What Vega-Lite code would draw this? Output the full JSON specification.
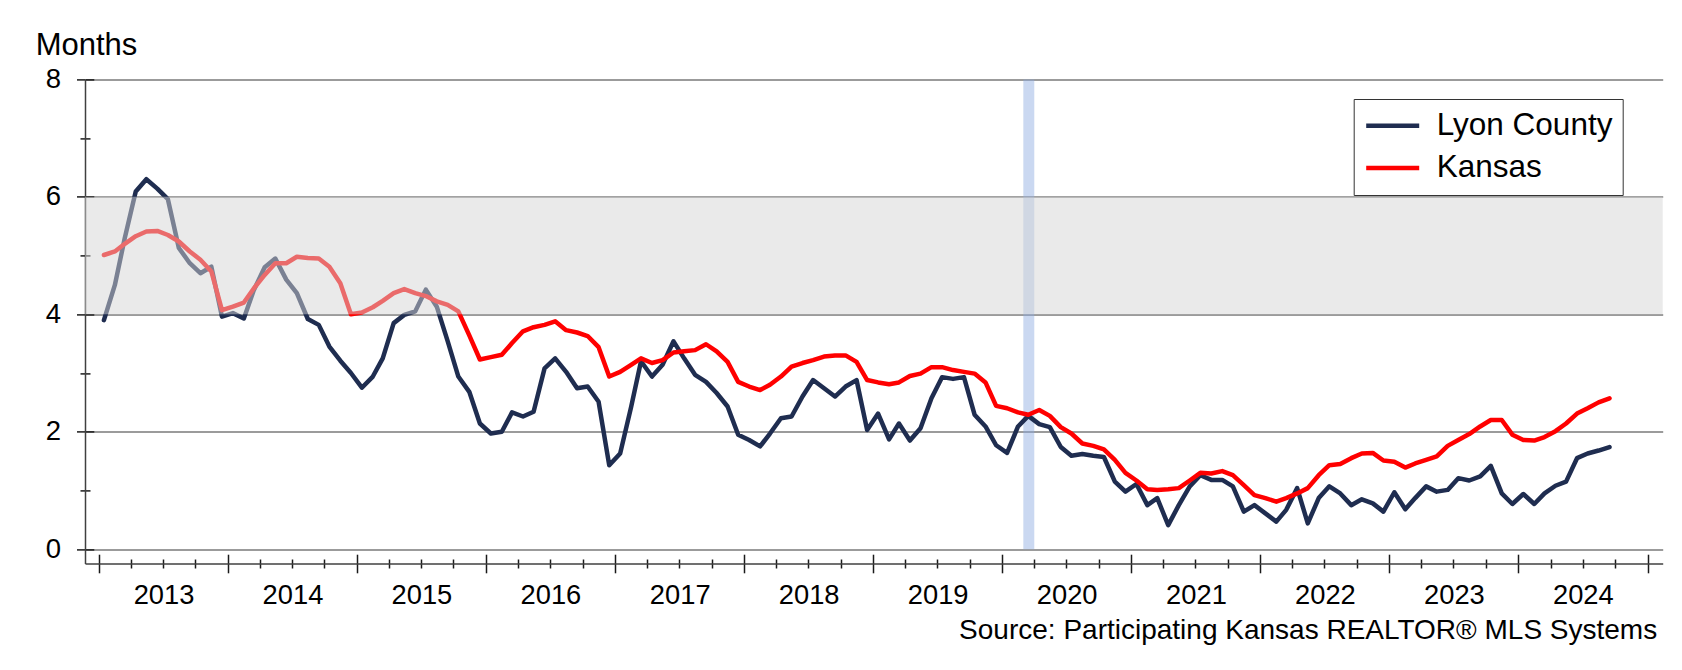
{
  "$schema": "https://vega.github.io/schema/vega-lite/v6.json",
  "autosize": {"type": "none"},
  "padding": {"left": 85, "top": 79.4, "right": 19.3, "bottom": 106.5},
  "width": 1577.7,
  "height": 484.1,
  "background": "white",
  "config": {"view": {"stroke": null}, "font": "Liberation Sans"},
  "datasets": {
    "m": [
      {"d":"2013-01-15","lyon":3.90,"ks":5.01},{"d":"2013-02-15","lyon":4.50,"ks":5.07},{"d":"2013-03-15","lyon":5.30,"ks":5.20},{"d":"2013-04-15","lyon":6.09,"ks":5.33},{"d":"2013-05-15","lyon":6.30,"ks":5.41},{"d":"2013-06-15","lyon":6.14,"ks":5.42},{"d":"2013-07-15","lyon":5.96,"ks":5.35},{"d":"2013-08-15","lyon":5.13,"ks":5.24},{"d":"2013-09-15","lyon":4.87,"ks":5.07},{"d":"2013-10-15","lyon":4.70,"ks":4.93},{"d":"2013-11-15","lyon":4.81,"ks":4.73},{"d":"2013-12-15","lyon":3.96,"ks":4.07},
      {"d":"2014-01-15","lyon":4.02,"ks":4.13},{"d":"2014-02-15","lyon":3.93,"ks":4.20},{"d":"2014-03-15","lyon":4.41,"ks":4.44},{"d":"2014-04-15","lyon":4.80,"ks":4.67},{"d":"2014-05-15","lyon":4.95,"ks":4.87},{"d":"2014-06-15","lyon":4.59,"ks":4.87},{"d":"2014-07-15","lyon":4.36,"ks":4.98},{"d":"2014-08-15","lyon":3.92,"ks":4.96},{"d":"2014-09-15","lyon":3.82,"ks":4.95},{"d":"2014-10-15","lyon":3.45,"ks":4.81},{"d":"2014-11-15","lyon":3.21,"ks":4.53},{"d":"2014-12-15","lyon":3.00,"ks":4.00},
      {"d":"2015-01-15","lyon":2.75,"ks":4.03},{"d":"2015-02-15","lyon":2.94,"ks":4.12},{"d":"2015-03-15","lyon":3.25,"ks":4.23},{"d":"2015-04-15","lyon":3.85,"ks":4.36},{"d":"2015-05-15","lyon":3.99,"ks":4.43},{"d":"2015-06-15","lyon":4.05,"ks":4.36},{"d":"2015-07-15","lyon":4.42,"ks":4.31},{"d":"2015-08-15","lyon":4.13,"ks":4.22},{"d":"2015-09-15","lyon":3.54,"ks":4.16},{"d":"2015-10-15","lyon":2.94,"ks":4.05},{"d":"2015-11-15","lyon":2.68,"ks":3.64},{"d":"2015-12-15","lyon":2.14,"ks":3.23},
      {"d":"2016-01-15","lyon":1.97,"ks":3.27},{"d":"2016-02-15","lyon":2.00,"ks":3.31},{"d":"2016-03-15","lyon":2.33,"ks":3.51},{"d":"2016-04-15","lyon":2.26,"ks":3.71},{"d":"2016-05-15","lyon":2.34,"ks":3.78},{"d":"2016-06-15","lyon":3.08,"ks":3.82},{"d":"2016-07-15","lyon":3.25,"ks":3.88},{"d":"2016-08-15","lyon":3.02,"ks":3.73},{"d":"2016-09-15","lyon":2.74,"ks":3.69},{"d":"2016-10-15","lyon":2.77,"ks":3.63},{"d":"2016-11-15","lyon":2.51,"ks":3.44},{"d":"2016-12-15","lyon":1.43,"ks":2.94},
      {"d":"2017-01-15","lyon":1.63,"ks":3.02},{"d":"2017-02-15","lyon":2.42,"ks":3.14},{"d":"2017-03-15","lyon":3.20,"ks":3.25},{"d":"2017-04-15","lyon":2.94,"ks":3.17},{"d":"2017-05-15","lyon":3.14,"ks":3.22},{"d":"2017-06-15","lyon":3.54,"ks":3.35},{"d":"2017-07-15","lyon":3.25,"ks":3.37},{"d":"2017-08-15","lyon":2.97,"ks":3.39},{"d":"2017-09-15","lyon":2.85,"ks":3.49},{"d":"2017-10-15","lyon":2.66,"ks":3.37},{"d":"2017-11-15","lyon":2.43,"ks":3.19},{"d":"2017-12-15","lyon":1.95,"ks":2.85},
      {"d":"2018-01-15","lyon":1.86,"ks":2.77},{"d":"2018-02-15","lyon":1.75,"ks":2.71},{"d":"2018-03-15","lyon":1.97,"ks":2.80},{"d":"2018-04-15","lyon":2.23,"ks":2.94},{"d":"2018-05-15","lyon":2.26,"ks":3.11},{"d":"2018-06-15","lyon":2.60,"ks":3.17},{"d":"2018-07-15","lyon":2.88,"ks":3.22},{"d":"2018-08-15","lyon":2.74,"ks":3.28},{"d":"2018-09-15","lyon":2.60,"ks":3.30},{"d":"2018-10-15","lyon":2.77,"ks":3.30},{"d":"2018-11-15","lyon":2.88,"ks":3.19},{"d":"2018-12-15","lyon":2.03,"ks":2.88},
      {"d":"2019-01-15","lyon":2.31,"ks":2.84},{"d":"2019-02-15","lyon":1.87,"ks":2.81},{"d":"2019-03-15","lyon":2.14,"ks":2.84},{"d":"2019-04-15","lyon":1.85,"ks":2.95},{"d":"2019-05-15","lyon":2.06,"ks":2.99},{"d":"2019-06-15","lyon":2.57,"ks":3.10},{"d":"2019-07-15","lyon":2.93,"ks":3.10},{"d":"2019-08-15","lyon":2.90,"ks":3.05},{"d":"2019-09-15","lyon":2.93,"ks":3.02},{"d":"2019-10-15","lyon":2.29,"ks":2.99},{"d":"2019-11-15","lyon":2.09,"ks":2.84},{"d":"2019-12-15","lyon":1.77,"ks":2.44},
      {"d":"2020-01-15","lyon":1.64,"ks":2.40},{"d":"2020-02-15","lyon":2.09,"ks":2.33},{"d":"2020-03-15","lyon":2.27,"ks":2.29},{"d":"2020-04-15","lyon":2.13,"ks":2.37},{"d":"2020-05-15","lyon":2.08,"ks":2.27},{"d":"2020-06-15","lyon":1.74,"ks":2.08},{"d":"2020-07-15","lyon":1.59,"ks":1.97},{"d":"2020-08-15","lyon":1.62,"ks":1.80},{"d":"2020-09-15","lyon":1.59,"ks":1.76},{"d":"2020-10-15","lyon":1.57,"ks":1.70},{"d":"2020-11-15","lyon":1.15,"ks":1.52},{"d":"2020-12-15","lyon":0.98,"ks":1.30},
      {"d":"2021-01-15","lyon":1.11,"ks":1.17},{"d":"2021-02-15","lyon":0.75,"ks":1.02},{"d":"2021-03-15","lyon":0.87,"ks":1.01},{"d":"2021-04-15","lyon":0.41,"ks":1.02},{"d":"2021-05-15","lyon":0.75,"ks":1.04},{"d":"2021-06-15","lyon":1.07,"ks":1.17},{"d":"2021-07-15","lyon":1.26,"ks":1.30},{"d":"2021-08-15","lyon":1.18,"ks":1.29},{"d":"2021-09-15","lyon":1.18,"ks":1.33},{"d":"2021-10-15","lyon":1.07,"ks":1.26},{"d":"2021-11-15","lyon":0.64,"ks":1.09},{"d":"2021-12-15","lyon":0.75,"ks":0.92},
      {"d":"2022-01-15","lyon":0.61,"ks":0.87},{"d":"2022-02-15","lyon":0.47,"ks":0.81},{"d":"2022-03-15","lyon":0.67,"ks":0.87},{"d":"2022-04-15","lyon":1.04,"ks":0.95},{"d":"2022-05-15","lyon":0.44,"ks":1.04},{"d":"2022-06-15","lyon":0.87,"ks":1.26},{"d":"2022-07-15","lyon":1.07,"ks":1.43},{"d":"2022-08-15","lyon":0.95,"ks":1.45},{"d":"2022-09-15","lyon":0.75,"ks":1.55},{"d":"2022-10-15","lyon":0.85,"ks":1.63},{"d":"2022-11-15","lyon":0.78,"ks":1.64},{"d":"2022-12-15","lyon":0.64,"ks":1.51},
      {"d":"2023-01-15","lyon":0.97,"ks":1.49},{"d":"2023-02-15","lyon":0.68,"ks":1.39},{"d":"2023-03-15","lyon":0.87,"ks":1.46},{"d":"2023-04-15","lyon":1.07,"ks":1.52},{"d":"2023-05-15","lyon":0.98,"ks":1.58},{"d":"2023-06-15","lyon":1.01,"ks":1.76},{"d":"2023-07-15","lyon":1.21,"ks":1.86},{"d":"2023-08-15","lyon":1.17,"ks":1.96},{"d":"2023-09-15","lyon":1.24,"ks":2.09},{"d":"2023-10-15","lyon":1.42,"ks":2.20},{"d":"2023-11-15","lyon":0.95,"ks":2.20},{"d":"2023-12-15","lyon":0.77,"ks":1.95},
      {"d":"2024-01-15","lyon":0.94,"ks":1.86},{"d":"2024-02-15","lyon":0.77,"ks":1.85},{"d":"2024-03-15","lyon":0.95,"ks":1.91},{"d":"2024-04-15","lyon":1.08,"ks":2.01},{"d":"2024-05-15","lyon":1.15,"ks":2.14},{"d":"2024-06-15","lyon":1.55,"ks":2.31},{"d":"2024-07-15","lyon":1.63,"ks":2.40},{"d":"2024-08-15","lyon":1.68,"ks":2.50},{"d":"2024-09-15","lyon":1.74,"ks":2.57}
    ],
    "covid": [{"s": "2020-03-01", "e": "2020-04-01", "y0": 0, "y1": 8}],
    "band": [{"lo": 4, "hi": 6}]
  },
  "resolve": {"axis": {"x": "independent", "y": "independent"}},
  "layer": [
    {
      "data": {"name": "covid"},
      "mark": {"type": "rect", "color": "#8aa8e0", "opacity": 0.45},
      "encoding": {
        "x": {
          "field": "s", "type": "temporal",
          "scale": {"type": "utc", "nice": false, "domain": [{"year": 2012, "month": 11, "date": 22, "hours": 10, "utc": true}, {"year": 2025, "month": 2, "date": 12, "hours": 12, "utc": true}]},
          "axis": {
            "orient": "bottom", "grid": false, "domain": false, "labels": false, "title": null,
            "tickCount": {"interval": "month", "step": 3},
            "tickColor": "#1a1a1a", "tickWidth": 1.5,
            "tickSize": {"condition": {"test": "utcmonth(datum.value) == 0", "value": -9.3}, "value": -4.5}
          }
        },
        "x2": {"field": "e"},
        "y": {
          "field": "y0", "type": "quantitative",
          "scale": {"domain": [-0.2435, 8], "nice": false, "zero": false},
          "axis": {
            "orient": "left", "values": [0, 1, 2, 3, 4, 5, 6, 7, 8], "grid": false, "domain": false, "labels": false, "title": null,
            "tickColor": "#1a1a1a", "tickWidth": 1.5,
            "tickSize": {"condition": {"test": "datum.value % 2 == 0", "value": -8.8}, "value": -5}
          }
        },
        "y2": {"field": "y1"}
      }
    },
    {
      "data": {"name": "m"},
      "mark": {"type": "line", "strokeWidth": 4.5, "strokeJoin": "round", "strokeCap": "round"},
      "encoding": {
        "x": {
          "field": "d", "type": "temporal",
          "axis": {
            "orient": "bottom", "grid": false, "domain": true, "domainColor": "#404040", "domainWidth": 1.5,
            "tickCount": {"interval": "month", "step": 3},
            "tickColor": "#1a1a1a", "tickWidth": 1.5,
            "tickSize": {"condition": {"test": "utcmonth(datum.value) == 0", "value": 9.3}, "value": 4.5},
            "labelExpr": "utcmonth(datum.value) == 0 && utcyear(datum.value) < 2025 ? utcFormat(datum.value, '%Y') : ''",
            "labelOffset": 64.5, "labelPadding": 30.5, "labelBaseline": "alphabetic", "labelAlign": "center",
            "labelFontSize": 27.3, "labelFont": "Liberation Sans", "labelColor": "#000000",
            "labelFlush": false, "labelOverlap": false, "labelBound": false,
            "title": "Source: Participating Kansas REALTOR® MLS Systems",
            "titleX": 1571.7, "titleY": 74.8, "titleAlign": "right", "titleBaseline": "alphabetic",
            "titleFontSize": 28, "titleFontWeight": "normal", "titleFont": "Liberation Sans", "titleColor": "#000000"
          }
        },
        "y": {
          "field": "lyon", "type": "quantitative",
          "axis": {
            "orient": "left", "values": [0, 1, 2, 3, 4, 5, 6, 7, 8],
            "grid": true, "gridColor": "#7a7a7a", "gridWidth": 1.5,
            "gridOpacity": {"condition": {"test": "datum.value % 2 == 0", "value": 1}, "value": 0},
            "domain": true, "domainColor": "#404040", "domainWidth": 1.5,
            "tickColor": "#1a1a1a", "tickWidth": 1.5,
            "tickSize": {"condition": {"test": "datum.value % 2 == 0", "value": 8.5}, "value": 5},
            "labelExpr": "datum.value % 2 == 0 ? datum.label : ''",
            "labelPadding": 16, "labelFontSize": 27.5, "labelFont": "Liberation Sans", "labelColor": "#000000",
            "labelBaseline": "middle", "labelFlush": false, "labelOverlap": false,
            "title": "Months", "titleAngle": 0, "titleAlign": "left", "titleBaseline": "alphabetic",
            "titleX": -49.8, "titleY": -25.4, "titleFontSize": 31, "titleFontWeight": "normal",
            "titleFont": "Liberation Sans", "titleColor": "#000000"
          }
        },
        "color": {
          "datum": "Lyon County",
          "scale": {"domain": ["Lyon County", "Kansas"], "range": ["#1f2d50", "#ff0000"]},
          "legend": {
            "orient": "none", "legendX": 1268.7, "legendY": 19.6, "title": null,
            "symbolType": "stroke", "symbolSize": 2809, "symbolStrokeWidth": 4.5,
            "labelFontSize": 31.5, "labelFont": "Liberation Sans", "labelColor": "#000000", "labelOffset": 15,
            "labelLimit": 600, "labelExpr": "datum.label + '\u00a0\u00a0'",
            "clipHeight": 33.6, "padding": 10, "rowPadding": 8.2, "strokeColor": "#333333", "fillColor": "#ffffff"
          }
        }
      }
    },
    {
      "data": {"name": "m"},
      "mark": {"type": "line", "strokeWidth": 4.5, "strokeJoin": "round", "strokeCap": "round"},
      "encoding": {
        "x": {"field": "d", "type": "temporal", "axis": null},
        "y": {"field": "ks", "type": "quantitative", "axis": null},
        "color": {"datum": "Kansas"}
      }
    },
    {
      "data": {"name": "band"},
      "mark": {"type": "rect", "color": "#d6d6d6", "opacity": 0.5},
      "encoding": {
        "y": {"field": "lo", "type": "quantitative", "axis": null},
        "y2": {"field": "hi"}
      }
    }
  ]
}
